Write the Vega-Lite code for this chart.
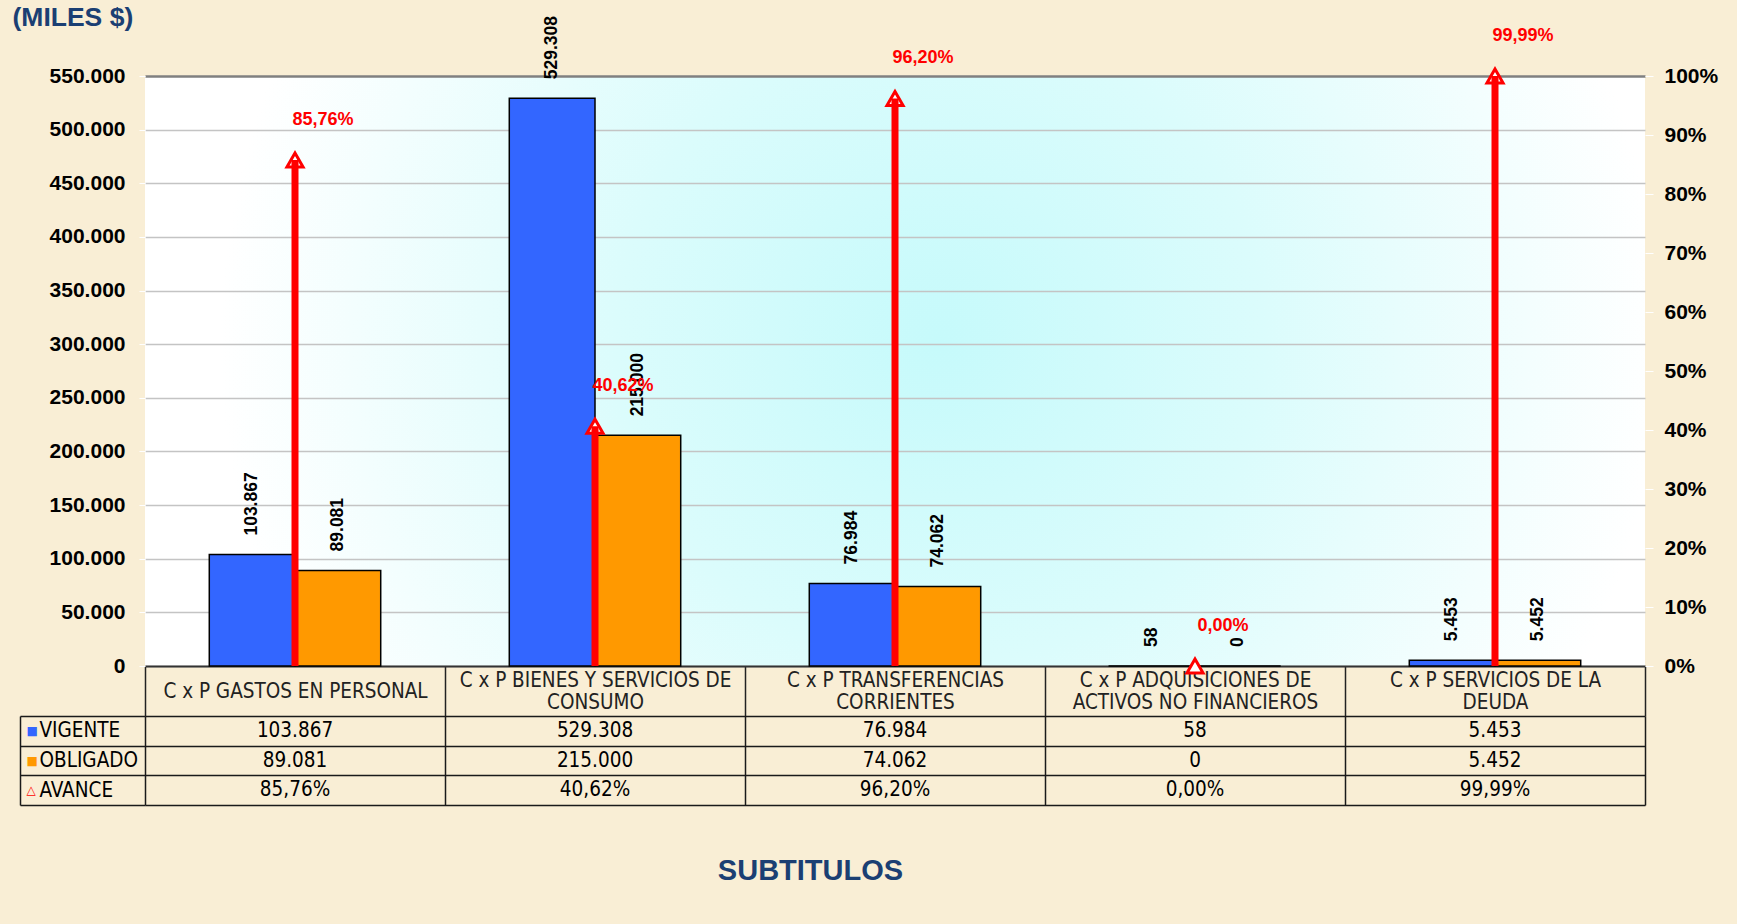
{
  "$schema": "https://vega.github.io/schema/vega-lite/v6.json",
  "background": "#F9EED5",
  "padding": {"left": 12, "top": 4, "right": 20, "bottom": 40},
  "bounds": "flush",
  "spacing": 50,
  "config": {
    "locale": {"number": {"decimal": ",", "thousands": ".", "grouping": [3], "currency": ["$", ""]}},
    "view": {"stroke": null},
    "font": "Liberation Sans"
  },
  "datasets": {
    "d": [
      {"cat": "C x P GASTOS EN PERSONAL", "VIGENTE": 103867, "OBLIGADO": 89081, "AVANCE": 0.8576},
      {"cat": "C x P BIENES Y SERVICIOS DE CONSUMO", "VIGENTE": 529308, "OBLIGADO": 215000, "AVANCE": 0.4062},
      {"cat": "C x P TRANSFERENCIAS CORRIENTES", "VIGENTE": 76984, "OBLIGADO": 74062, "AVANCE": 0.962},
      {"cat": "C x P ADQUISICIONES DE ACTIVOS NO FINANCIEROS", "VIGENTE": 58, "OBLIGADO": 0, "AVANCE": 0},
      {"cat": "C x P SERVICIOS DE LA DEUDA", "VIGENTE": 5453, "OBLIGADO": 5452, "AVANCE": 0.9999}
    ]
  },
  "vconcat": [
    {
      "width": 1500,
      "height": 590,
      "view": {
        "fill": {
          "gradient": "radial",
          "x1": 0.53, "y1": 0.48, "r1": 0,
          "x2": 0.53, "y2": 0.48, "r2": 0.48,
          "stops": [
            {"offset": 0, "color": "#C6FAFB"},
            {"offset": 0.45, "color": "#DBFCFC"},
            {"offset": 1, "color": "#FFFFFF"}
          ]
        },
        "stroke": null
      },
      "data": {"name": "d"},
      "layer": [
        {
          "transform": [{"fold": ["VIGENTE", "OBLIGADO"], "as": ["serie", "monto"]}],
          "encoding": {
            "x": {
              "field": "cat", "type": "nominal",
              "scale": {
                "domain": ["C x P GASTOS EN PERSONAL", "C x P BIENES Y SERVICIOS DE CONSUMO", "C x P TRANSFERENCIAS CORRIENTES", "C x P ADQUISICIONES DE ACTIVOS NO FINANCIEROS", "C x P SERVICIOS DE LA DEUDA"],
                "paddingInner": 0, "paddingOuter": 0
              },
              "axis": {
                "title": null,
                "orient": "bottom",
                "domain": true, "domainColor": "#333333", "domainWidth": 2,
                "ticks": true, "tickBand": "extent", "tickSize": 50, "tickColor": "#222222", "tickWidth": 1.5,
                "grid": false,
                "labelFont": "Liberation Sans Narrow, DejaVu Sans Condensed",
                "labelFontSize": 20.5, "labelColor": "#222222",
                "labelPadding": {"condition": {"test": "datum.value == 'C x P GASTOS EN PERSONAL'", "value": -25}, "value": -36},
                "labelBaseline": "middle", "labelAngle": 0, "labelLineHeight": 22,
                "labelOverlap": false, "labelBound": false, "labelFlush": false, "labelLimit": 0,
                "labelExpr": "datum.value == 'C x P BIENES Y SERVICIOS DE CONSUMO' ? ['C x P BIENES Y SERVICIOS DE', 'CONSUMO'] : datum.value == 'C x P TRANSFERENCIAS CORRIENTES' ? ['C x P TRANSFERENCIAS', 'CORRIENTES'] : datum.value == 'C x P ADQUISICIONES DE ACTIVOS NO FINANCIEROS' ? ['C x P ADQUISICIONES DE', 'ACTIVOS NO FINANCIEROS'] : datum.value == 'C x P SERVICIOS DE LA DEUDA' ? ['C x P SERVICIOS DE LA', 'DEUDA'] : datum.value"
              }
            },
            "xOffset": {
              "field": "serie", "type": "nominal",
              "sort": ["VIGENTE", "OBLIGADO"],
              "scale": {"paddingInner": 0, "paddingOuter": 0.75}
            },
            "y": {
              "field": "monto", "type": "quantitative",
              "scale": {"domain": [0, 550000], "nice": false, "zero": true},
              "axis": {
                "title": "(MILES $)",
                "titleAngle": 0, "titleX": -133, "titleY": -72,
                "titleAlign": "left", "titleBaseline": "top",
                "titleFont": "Liberation Sans", "titleFontSize": 26.5, "titleFontWeight": "bold", "titleColor": "#1B3F73",
                "values": [0, 50000, 100000, 150000, 200000, 250000, 300000, 350000, 400000, 450000, 500000, 550000],
                "format": ",d",
                "labelFont": "Liberation Sans", "labelFontSize": 21, "labelFontWeight": "bold", "labelColor": "black",
                "labelPadding": 14, "tickSize": 6, "tickColor": "white",
                "domain": false,
                "grid": true,
                "gridColor": {"condition": {"test": "datum.value == 550000", "value": "#808080"}, "value": "#C4C4C4"},
                "gridWidth": {"condition": {"test": "datum.value == 550000", "value": 2.5}, "value": 1.5}
              }
            }
          },
          "layer": [
            {
              "mark": {"type": "bar", "stroke": "black", "strokeWidth": 1.5},
              "encoding": {
                "color": {
                  "field": "serie", "type": "nominal",
                  "scale": {"domain": ["VIGENTE", "OBLIGADO"], "range": ["#3366FF", "#FF9900"]},
                  "legend": null
                }
              }
            },
            {
              "mark": {"type": "text", "angle": 270, "align": "left", "baseline": "middle", "dx": 19, "font": "Liberation Sans", "fontSize": 17.5, "fontWeight": "bold", "color": "black"},
              "encoding": {"text": {"field": "monto", "type": "quantitative", "format": ",d"}}
            }
          ]
        },
        {
          "encoding": {
            "x": {
              "field": "cat", "type": "nominal",
              "scale": {
                "domain": ["C x P GASTOS EN PERSONAL", "C x P BIENES Y SERVICIOS DE CONSUMO", "C x P TRANSFERENCIAS CORRIENTES", "C x P ADQUISICIONES DE ACTIVOS NO FINANCIEROS", "C x P SERVICIOS DE LA DEUDA"]
              }
            },
            "y": {
              "field": "AVANCE", "type": "quantitative",
              "scale": {"domain": [0, 1], "nice": false},
              "axis": {
                "orient": "right", "title": null,
                "values": [0, 0.1, 0.2, 0.3, 0.4, 0.5, 0.6, 0.7, 0.8, 0.9, 1],
                "format": ".0%",
                "labelFont": "Liberation Sans", "labelFontSize": 21, "labelFontWeight": "bold", "labelColor": "black",
                "labelPadding": 11, "tickSize": 8, "tickColor": "white",
                "domain": false, "grid": false
              }
            }
          },
          "layer": [
            {
              "mark": {"type": "point", "shape": "triangle-up", "size": 260, "filled": true, "fill": "white", "stroke": "#FF0000", "strokeWidth": 3, "opacity": 1}
            },
            {
              "mark": {"type": "rule", "color": "#FF0000", "strokeWidth": 7},
              "encoding": {"y2": {"datum": 0}}
            },
            {
              "mark": {"type": "text", "color": "#FF0000", "font": "Liberation Sans", "fontSize": 18, "fontWeight": "bold", "dx": 28, "dy": -40, "align": "center", "baseline": "middle"},
              "encoding": {"text": {"field": "AVANCE", "type": "quantitative", "format": ".2%"}}
            }
          ]
        }
      ],
      "resolve": {"scale": {"y": "independent"}}
    },
    {
      "width": 1500,
      "height": 89,
      "data": {"name": "d"},
      "transform": [{"fold": ["VIGENTE", "OBLIGADO", "AVANCE"], "as": ["fila", "valor"]}],
      "encoding": {
        "x": {
          "field": "cat", "type": "nominal",
          "scale": {
            "domain": ["C x P GASTOS EN PERSONAL", "C x P BIENES Y SERVICIOS DE CONSUMO", "C x P TRANSFERENCIAS CORRIENTES", "C x P ADQUISICIONES DE ACTIVOS NO FINANCIEROS", "C x P SERVICIOS DE LA DEUDA"],
            "paddingInner": 0, "paddingOuter": 0
          },
          "axis": {
            "orient": "bottom",
            "domain": false, "ticks": false, "labels": false,
            "grid": true, "tickBand": "extent", "gridColor": "#1A1A1A", "gridWidth": 1.5,
            "title": "SUBTITULOS",
            "titleFont": "Liberation Sans", "titleFontSize": 29, "titleFontWeight": "bold", "titleColor": "#1B3F73",
            "titleX": 665, "titleY": 65, "titleAlign": "center", "titleBaseline": "middle"
          }
        }
      },
      "layer": [
        {
          "transform": [{"filter": "datum.fila != 'AVANCE'"}],
          "mark": {"type": "text", "font": "Liberation Sans Narrow, DejaVu Sans Condensed", "fontSize": 20.5, "color": "black"},
          "encoding": {
            "y": {
              "field": "fila", "type": "nominal",
              "scale": {"domain": ["VIGENTE", "OBLIGADO", "AVANCE"], "paddingInner": 0, "paddingOuter": 0},
              "axis": {
                "orient": "left", "title": null,
                "domain": false,
                "ticks": true, "tickBand": "extent", "tickSize": 125, "tickColor": "#1A1A1A", "tickWidth": 1.5,
                "grid": true, "gridColor": "#1A1A1A", "gridWidth": 1.5,
                "labelAlign": "left", "labelBaseline": "middle", "labelPadding": -19,
                "labelFont": "Liberation Sans Narrow, DejaVu Sans Condensed", "labelFontSize": 20.5, "labelColor": "black",
                "labelLimit": 0
              }
            },
            "text": {"field": "valor", "type": "quantitative", "format": ",d"}
          }
        },
        {
          "transform": [{"filter": "datum.fila == 'AVANCE'"}],
          "mark": {"type": "text", "font": "Liberation Sans Narrow, DejaVu Sans Condensed", "fontSize": 20.5, "color": "black"},
          "encoding": {
            "y": {
              "field": "fila", "type": "nominal",
              "scale": {"domain": ["VIGENTE", "OBLIGADO", "AVANCE"], "paddingInner": 0, "paddingOuter": 0},
              "axis": {
                "orient": "left", "title": null, "offset": 125,
                "domain": true, "domainColor": "#1A1A1A", "domainWidth": 1.5,
                "ticks": false, "grid": false,
                "labelAlign": "left", "labelBaseline": "middle", "labelPadding": -6,
                "labelFont": "DejaVu Sans", "labelFontSize": 12,
                "labelExpr": "datum.value == 'AVANCE' ? '△' : '■'",
                "labelColor": {
                  "condition": [
                    {"test": "datum.value == 'VIGENTE'", "value": "#3366FF"},
                    {"test": "datum.value == 'OBLIGADO'", "value": "#FF9900"}
                  ],
                  "value": "#FF0000"
                }
              }
            },
            "text": {"field": "valor", "type": "quantitative", "format": ".2%"}
          }
        }
      ],
      "resolve": {"axis": {"y": "independent"}}
    }
  ]
}
